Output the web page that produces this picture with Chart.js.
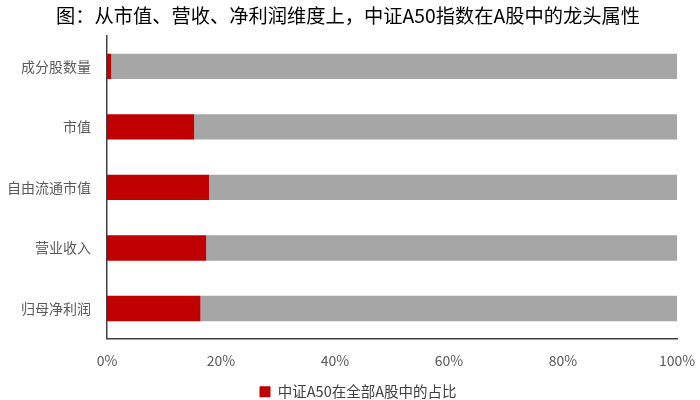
<!DOCTYPE html>
<html>
<head>
<meta charset="utf-8">
<script src="https://cdn.jsdelivr.net/npm/chart.js@4"></script>
<style>
html,body{margin:0;padding:0;background:#fff;}
#wrap{width:700px;height:400px;}
</style>
</head>
<body>
<div id="wrap"><canvas id="c" width="700" height="400"></canvas></div>
<script>
const categories = ["成分股数量", "市值", "自由流通市值", "营业收入", "归母净利润"];
const a50Share = [0.75, 15.3, 17.9, 17.4, 16.4];
const restShare = [99.25, 84.7, 82.1, 82.6, 83.6];
const xTicks = [0, 20, 40, 60, 80, 100];
const titleText = "图：从市值、营收、净利润维度上，中证A50指数在A股中的龙头属性";
const legendLabel = "中证A50在全部A股中的占比";

const FONT = "'Noto Sans CJK SC', 'Noto Sans', sans-serif";

const shiftLegend = {
  id: 'shiftLegend',
  afterLayout(chart) {
    if (chart.legend) { chart.legend.left += 20; }
  }
};

new Chart(document.getElementById('c'), {
  type: 'bar',
  data: {
    labels: categories,
    datasets: [
      { label: legendLabel, data: a50Share, backgroundColor: '#C00000', barPercentage: 0.42, categoryPercentage: 1 },
      { label: '其余', data: restShare, backgroundColor: '#A6A6A6', barPercentage: 0.42, categoryPercentage: 1 }
    ]
  },
  plugins: [shiftLegend],
  options: {
    indexAxis: 'y',
    responsive: false,
    animation: false,
    layout: { padding: { left: 0, right: 4, top: 0, bottom: -9 } },
    plugins: {
      title: {
        display: true,
        text: titleText,
        color: '#000',
        font: { family: FONT, size: 19.25, weight: 'normal' },
        padding: { top: 4, bottom: 9 }
      },
      legend: {
        position: 'bottom',
        labels: {
          filter: (item) => item.datasetIndex === 0,
          boxWidth: 11, boxHeight: 11,
          color: '#404040',
          font: { family: FONT, size: 14.5 },
          padding: 1
        }
      },
      tooltip: { enabled: false }
    },
    scales: {
      x: {
        stacked: true,
        min: 0, max: 100,
        afterBuildTicks: (s) => { s.ticks = xTicks.map(v => ({ value: v })); },
        afterFit: (s) => { s.paddingRight = 23; s.paddingLeft = 0; },
        ticks: { callback: (v) => v + '%', color: '#595959', font: { family: FONT, size: 14 }, padding: 14, maxRotation: 0 },
        grid: { display: false, drawTicks: false },
        border: { display: true, color: '#404040', width: 1.5 }
      },
      y: {
        stacked: true,
        afterFit: (s) => { s.width = 107; },
        ticks: { color: '#595959', font: { family: FONT, size: 14 }, padding: 16 },
        grid: { display: false, drawTicks: false },
        border: { display: true, color: '#404040', width: 1.5 }
      }
    }
  }
});
</script>
</body>
</html>
